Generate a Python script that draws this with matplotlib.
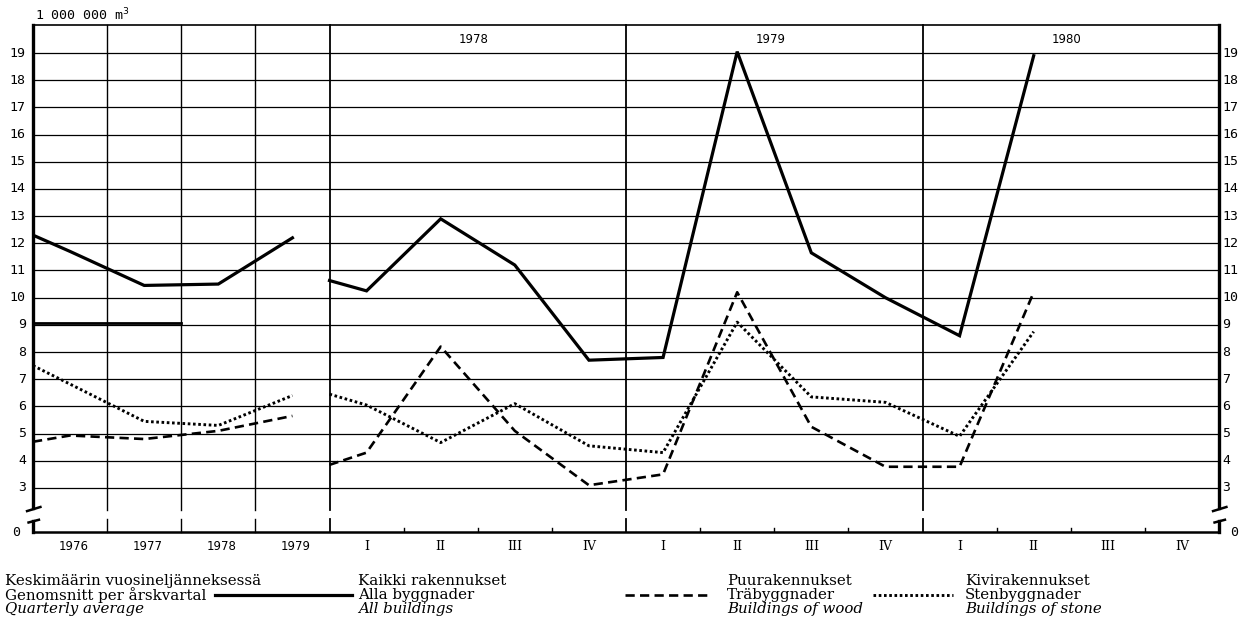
import matplotlib
matplotlib.use("Agg")
import matplotlib.pyplot as plt
from matplotlib.lines import Line2D

# annual columns 1976-1979 (x in years from the left border), quarterly average
avg_x = [0.0, 0.5, 1.5, 2.5, 3.5]
avg_all = [12.3, 11.7, 10.45, 10.5, 12.2]
avg_wood = [4.7, 4.93, 4.8, 5.1, 5.65]
avg_stone = [7.5, 6.82, 5.45, 5.3, 6.4]

# quarters 1978 I - 1980 II (x in quarters, 1978 starts at 4)
q_x = [4.0, 4.5, 5.5, 6.5, 7.5, 8.5, 9.5, 10.5, 11.5, 12.5, 13.5]
q_all = [10.63, 10.25, 12.9, 11.2, 7.7, 7.8, 19.05, 11.65, 10.0, 8.6, 18.9]
q_wood = [3.85, 4.3, 8.2, 5.1, 3.1, 3.5, 10.2, 5.25, 3.78, 3.78, 10.2]
q_stone = [6.45, 6.05, 4.67, 6.1, 4.55, 4.3, 9.1, 6.35, 6.15, 4.9, 8.75]

year_labels = ["1976", "1977", "1978", "1979"]
section_years = ["1978", "1979", "1980"]
quarter_labels = ["I", "II", "III", "IV"] * 3
y_values = list(range(3, 20))

W, H = 1247, 632
ZERO = 1.38   # where the broken axis puts 0
TOP = 20.03
BRK_HI = 2.2
BRK_LO = 1.85

fig = plt.figure(figsize=(W / 100, H / 100), dpi=100)
ax = fig.add_axes([33 / W, 1 - 532 / H, (1219 - 33) / W, (532 - 25) / H])
ax.set_xlim(0, 16)
ax.set_ylim(ZERO, TOP)
ax.axis("off")

k = "black"
# grid
for v in y_values:
    ax.plot([0, 16], [v, v], color=k, lw=0.9, clip_on=False)
ax.plot([0, 16], [TOP, TOP], color=k, lw=1.2, clip_on=False)
ax.plot([0, 16], [ZERO, ZERO], color=k, lw=1.8, clip_on=False)
for x in [1, 2, 3, 4, 8, 12]:
    w = 1.0 if x < 4 else 1.3
    ax.plot([x, x], [BRK_HI, TOP], color=k, lw=w, clip_on=False)
    ax.plot([x, x], [ZERO, BRK_LO], color=k, lw=w, clip_on=False)
for x in [5, 6, 7, 9, 10, 11, 13, 14, 15]:
    ax.plot([x, x], [ZERO, ZERO + 0.15], color=k, lw=1.0)

# borders with axis break marks
for x, s in [(0, 1), (16, -1)]:
    ax.plot([x, x], [BRK_HI + 0.05, TOP], color=k, lw=2.4, clip_on=False)
    ax.plot([x, x], [ZERO, BRK_LO - 0.05], color=k, lw=2.4, clip_on=False)
    ax.plot([x - 0.08, x + 0.1], [BRK_HI - 0.05, BRK_HI + 0.1], color=k, lw=1.8, clip_on=False)
    ax.plot([x - 0.06, x + 0.08], [BRK_LO - 0.12, BRK_LO - 0.02], color=k, lw=1.8, clip_on=False)

# data
solid = dict(color=k, lw=2.3, solid_joinstyle="miter")
dashed = dict(color=k, lw=1.9, ls=(0, (3.5, 2)))
dotted = dict(color=k, lw=2.1, ls=(0, (0.9, 0.9)))
ax.plot(avg_x, avg_all, **solid)
ax.plot([0, 2], [9.05, 9.05], color=k, lw=2.0)
ax.plot(avg_x, avg_wood, **dashed)
ax.plot(avg_x, avg_stone, **dotted)
ax.plot(q_x, q_all, **solid)
ax.plot(q_x, q_wood, **dashed)
ax.plot(q_x, q_stone, **dotted)

# y labels both sides
num_font = dict(family="DejaVu Sans Mono", fontsize=9.5)
yt = ax.get_yaxis_transform()
for v in y_values:
    ax.text(-0.006, v, str(v), transform=yt, ha="right", va="center", **num_font)
    ax.text(1.003, v, str(v), transform=yt, ha="left", va="center", **num_font)
ax.text(-0.011, ZERO, "0", transform=yt, ha="right", va="center", **num_font)
ax.text(1.009, ZERO, "0", transform=yt, ha="left", va="center", **num_font)

# x labels
for i, lab in enumerate(year_labels):
    ax.text(i + 0.55, ZERO - 0.55, lab, ha="center", va="center", family="DejaVu Sans", fontsize=8.5)
for i, lab in enumerate(quarter_labels):
    ax.text(4 + i + 0.5, ZERO - 0.55, lab, ha="center", va="center", family="DejaVu Serif", fontsize=9)
for i, lab in enumerate(section_years):
    ax.text(6 + 4 * i - 0.05, 19.5, lab, ha="center", va="center", family="DejaVu Sans", fontsize=8.5)

fig.text(35 / W, 1 - 15 / H, "1 000 000 m$^3$", ha="left", va="center", family="DejaVu Sans Mono", fontsize=9.5)

# legend
rows = [1 - 581 / H, 1 - 595 / H, 1 - 609 / H]
leg_font = dict(family="DejaVu Serif", fontsize=10.8, va="center", ha="left")
columns = [
    (5, ["Keskimäärin vuosineljänneksessä", "Genomsnitt per årskvartal", "Quarterly average"], None),
    (358, ["Kaikki rakennukset", "Alla byggnader", "All buildings"], (215, 352, solid)),
    (727, ["Puurakennukset", "Träbyggnader", "Buildings of wood"], (625, 710, dashed)),
    (965, ["Kivirakennukset", "Stenbyggnader", "Buildings of stone"], (873, 953, dotted)),
]
for x, texts, sample in columns:
    for j, t in enumerate(texts):
        fig.text(x / W, rows[j], t, style="italic" if j == 2 else "normal", **leg_font)
    if sample:
        x0, x1, st = sample
        fig.add_artist(Line2D([x0 / W, x1 / W], [rows[1], rows[1]], transform=fig.transFigure, **st))

fig.savefig("out.png", dpi=100)
